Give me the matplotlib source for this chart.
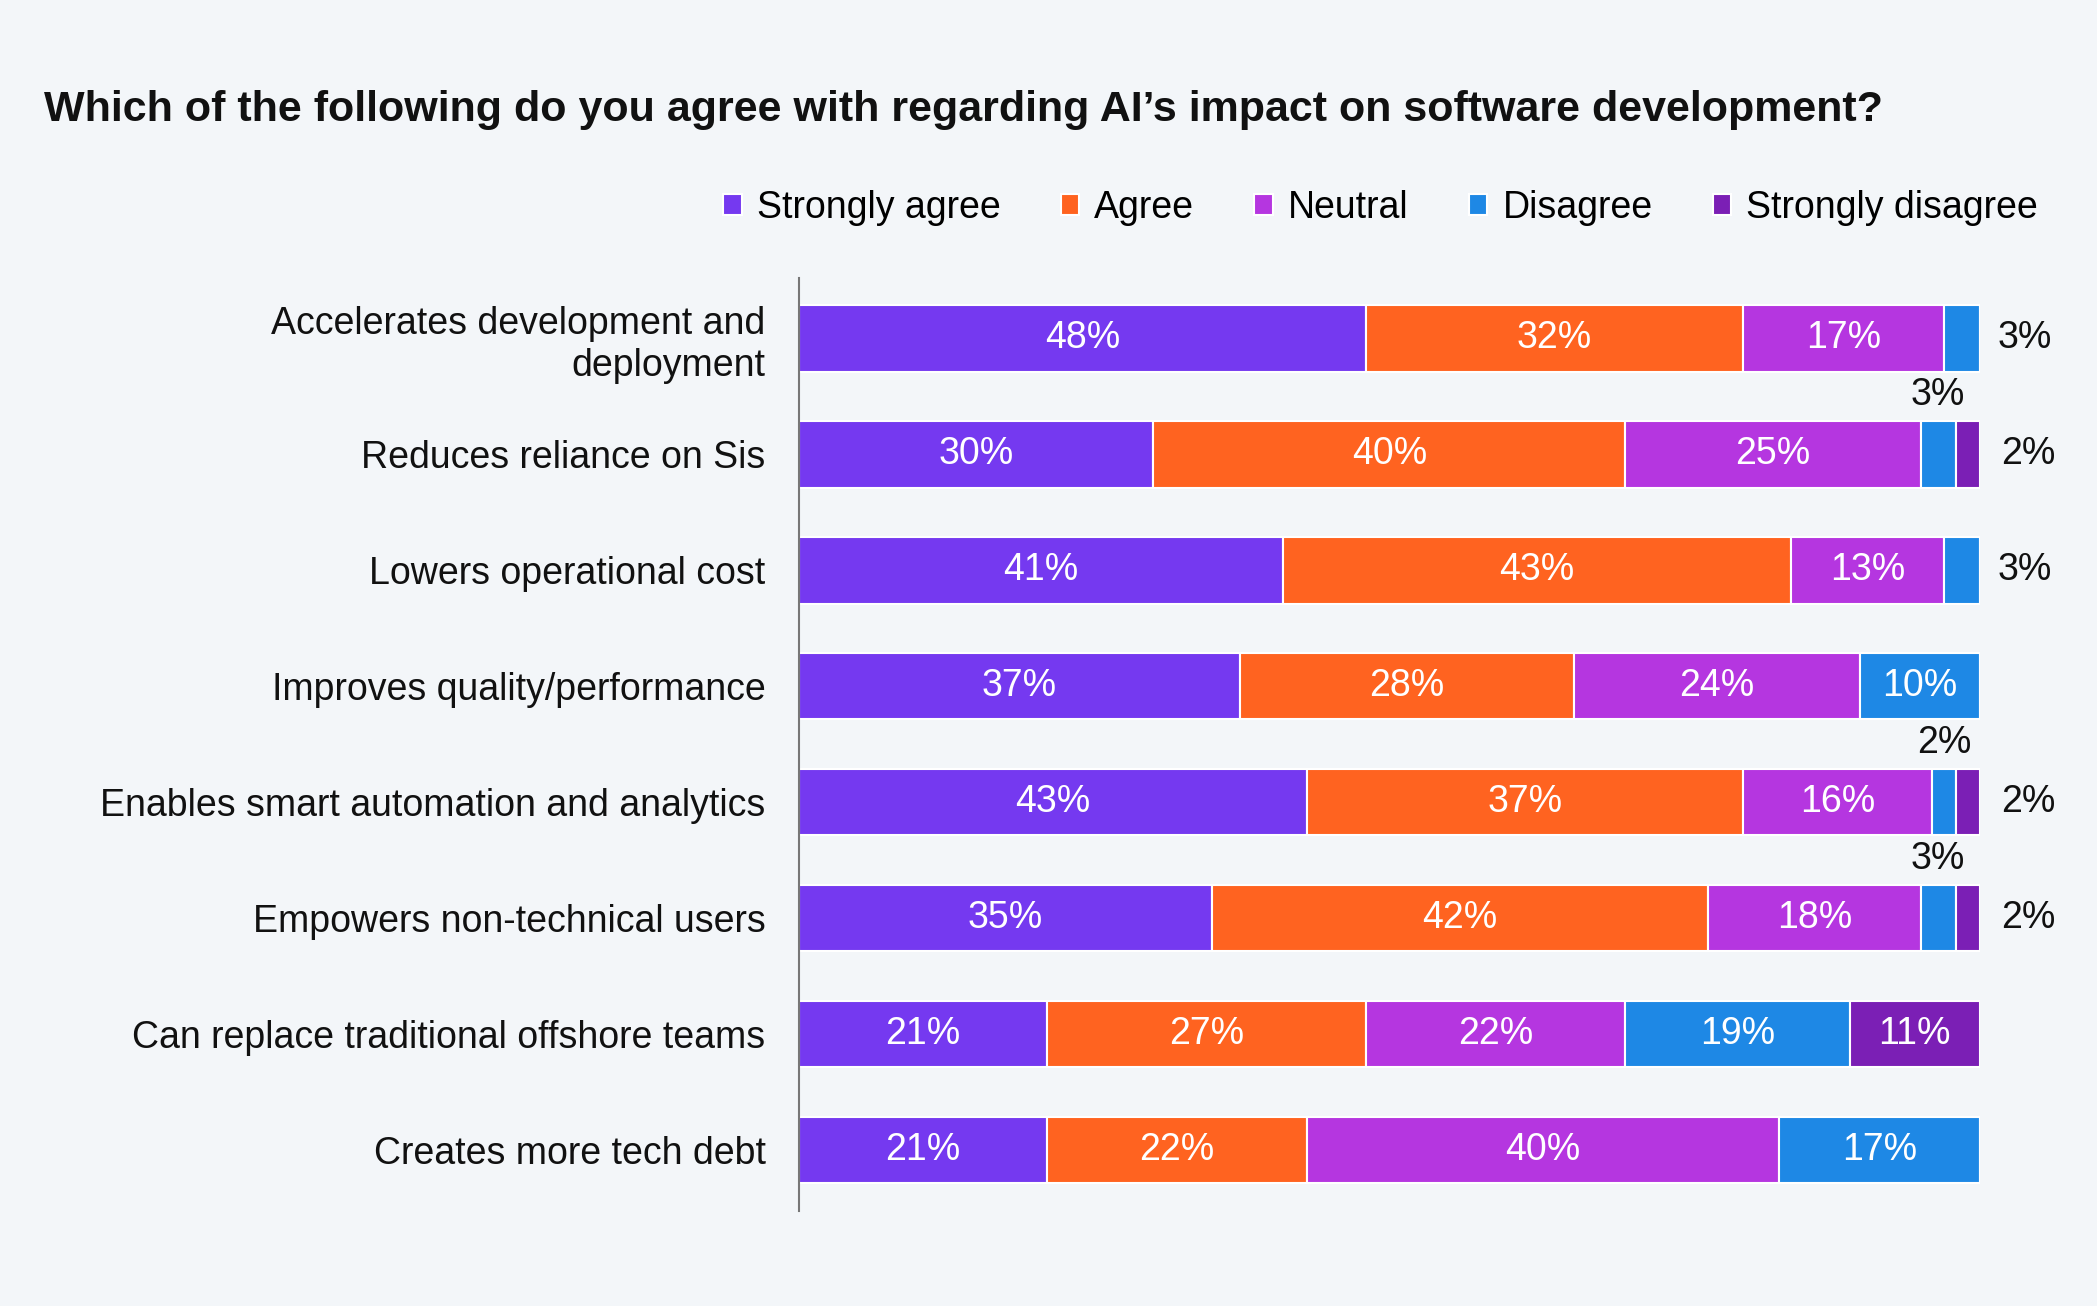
import matplotlib
matplotlib.use("Agg")
import matplotlib.pyplot as plt
import numpy as np

categories = [
    "Accelerates development and\ndeployment",
    "Reduces reliance on Sis",
    "Lowers operational cost",
    "Improves quality/performance",
    "Enables smart automation and analytics",
    "Empowers non-technical users",
    "Can replace traditional offshore teams",
    "Creates more tech debt",
]
series = ["Strongly agree", "Agree", "Neutral", "Disagree", "Strongly disagree"]
strongly_agree = [48, 30, 41, 37, 43, 35, 21, 21]
agree = [32, 40, 43, 28, 37, 42, 27, 22]
neutral = [17, 25, 13, 24, 16, 18, 22, 40]
disagree = [3, 3, 3, 10, 2, 3, 19, 17]
strongly_disagree = [0, 2, 0, 0, 2, 2, 11, 0]

COLORS = ["#7539F0", "#FF6320", "#B536E0", "#1E88E5", "#7B1FB5"]
BG = "#F3F6F9"
TEXT = "#111111"
FS = 27

plt.rcParams["font.family"] = ["Liberation Sans", "DejaVu Sans"]

fig = plt.figure(figsize=(20.97, 13.06), dpi=100, facecolor=BG)
ax = fig.add_axes([0.381, 0.073, 0.563, 0.714])
ax.set_facecolor(BG)

values = [np.array(v, dtype=float) for v in
          [strongly_agree, agree, neutral, disagree, strongly_disagree]]
totals = sum(values)
y = np.arange(len(categories))
left = np.zeros(len(categories))
for name, vals, col in zip(series, values, COLORS):
    w = vals / totals * 100  # rows rendered as full 100% bars
    ax.barh(y, w, left=left, height=0.57, color=col, edgecolor="white",
            linewidth=1.5, label=name)
    for i, v in enumerate(vals):
        if v >= 5:
            ax.text(left[i] + w[i] / 2, y[i], f"{int(v)}%", ha="center", va="center",
                    color="white", fontsize=FS)
    left += w

# small values placed outside the bars
for i in range(len(categories)):
    d, s = disagree[i], strongly_disagree[i]
    if 0 < s < 5:
        ax.text(101.8, y[i], f"{s}%", ha="left", va="center", fontsize=FS, color=TEXT)
        if d < 5:
            ax.text(100 - s - d / 2, y[i] - 0.36, f"{d}%", ha="center", va="bottom",
                    fontsize=FS, color=TEXT)
    elif d < 5 and s == 0:
        ax.text(101.5, y[i], f"{d}%", ha="left", va="center", fontsize=FS, color=TEXT)

ax.set_xlim(0, 100)
ax.set_ylim(len(categories) - 0.5 + 0.02, -0.5 - 0.02)
ax.set_yticks(y)
ax.set_yticklabels(categories, fontsize=FS, color=TEXT)
ax.tick_params(axis="y", length=0, pad=24)
ax.set_xticks([])
for sp in ["top", "right", "bottom"]:
    ax.spines[sp].set_visible(False)
ax.spines["left"].set_color("#777777")
ax.spines["left"].set_linewidth(1.5)
for t in ax.get_yticklabels():
    t.set_multialignment("right")

fig.text(0.021, 0.916, "Which of the following do you agree with regarding AI\u2019s impact on software development?",
         fontsize=31, fontweight="bold", color=TEXT, va="center")

fig.legend(loc="center right", bbox_to_anchor=(0.988, 0.841), ncol=5, frameon=False,
           fontsize=FS, handlelength=0.5, handleheight=0.5, handletextpad=0.4,
           columnspacing=1.6)

fig.savefig("out.png", dpi=100, facecolor=BG)
